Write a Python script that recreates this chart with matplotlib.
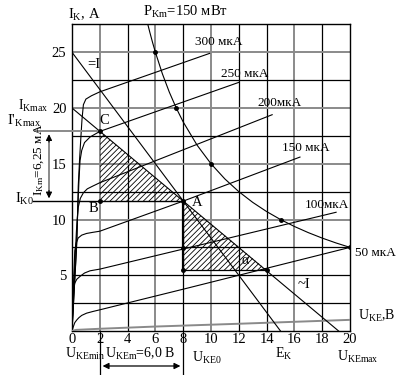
import matplotlib
matplotlib.use("Agg")
import matplotlib.pyplot as plt
from matplotlib.patches import Polygon
import numpy as np

plt.rcParams['font.family'] = ['Liberation Serif', 'DejaVu Serif']
plt.rcParams['mathtext.fontset'] = 'custom'
plt.rcParams['mathtext.rm'] = 'Liberation Serif'
plt.rcParams['mathtext.it'] = 'Liberation Serif'
plt.rcParams['hatch.linewidth'] = 0.6

# ---------------- data ----------------
x_ticks = [0, 2, 4, 6, 8, 10, 12, 14, 16, 18, 20]
y_ticks = [5, 10, 15, 20, 25]

# output characteristics, U_KE (V) and I_K (mA), per base current
curve_labels = ["300 мкА", "250 мкА", "200мкА", "150 мкА", "100мкА", "50 мкА"]
u_300 = [0, 0.35, 0.45, 0.55, 0.65, 0.72, 0.82, 1.0, 1.4, 2.0, 9.9]
i_300 = [0, 8.0, 13.0, 15.5, 17.6, 19.0, 20.3, 20.8, 21.1, 21.45, 24.9]
u_250 = [0, 0.3, 0.42, 0.5, 0.58, 0.7, 0.9, 1.3, 2.0, 12.0]
i_250 = [0, 7.0, 11.0, 13.5, 15.3, 16.2, 16.9, 17.4, 17.9, 22.3]
u_200 = [0, 0.2, 0.32, 0.4, 0.45, 0.6, 0.82, 1.1, 1.5, 2.0, 14.4]
i_200 = [0, 6.0, 9.0, 10.4, 11.1, 11.9, 12.4, 12.75, 13.0, 13.3, 19.4]
u_150 = [0, 0.1, 0.2, 0.3, 0.45, 0.7, 1.05, 1.5, 2.0, 8.0, 16.4]
i_150 = [0, 4.0, 7.2, 7.9, 8.35, 8.6, 8.75, 8.85, 8.95, 11.65, 15.6]
u_100 = [0, 0.05, 0.1, 0.2, 0.35, 0.58, 0.9, 1.3, 2.0, 8.0, 19.0]
i_100 = [0, 2.0, 3.7, 4.3, 4.65, 4.9, 5.2, 5.4, 5.55, 7.35, 10.65]
u_50 = [0, 0.1, 0.2, 0.35, 0.5, 0.7, 1.05, 1.5, 2.0, 8.0, 20.0]
i_50 = [0, 0.4, 0.75, 1.0, 1.2, 1.4, 1.6, 1.75, 1.9, 3.75, 7.5]
u_0 = [0, 0.3, 2.0, 6.0, 12.0, 20.0]
i_0 = [0, 0.1, 0.2, 0.4, 0.65, 1.0]

# max power hyperbola P = 150 mW
p_km = 150.0
u_hyp = [5.45, 5.6, 5.8, 6.0, 6.5, 7.0, 7.5, 8.0, 9.0, 10.0, 11.0, 12.0, 13.0,
         14.0, 15.0, 16.0, 17.0, 18.0, 19.0, 20.0]
hyp_dots_u = [6.0, 7.5, 10.0, 15.0, 20.0]

# operating points
u_c, i_c = 2.0, 17.9      # C
u_a, i_a = 8.0, 11.65     # A
u_d, i_d = 14.0, 5.45     # lower end of swing
e_k = 15.0                # E_K
i_dc0 = 25.0              # DC load line at U=0
i_ac0 = 20.0              # AC load line at U=0
u_ac0 = 19.18             # AC load line at I=0

# ---------------- figure ----------------
W, H = 401, 375
fig = plt.figure(figsize=(W / 100, H / 100), dpi=100)
ax = fig.add_axes([72 / W, 44 / H, 278 / W, (331 - 24.4) / H])
ax.set_xlim(0, 20)
ax.set_ylim(0, 27.5)

def px(xp, yp):
    return (xp - 72) / 13.9, (331 - yp) / 11.15

grey = '#8a8a8a'
# grid
vcol = {2: grey, 4: 'k', 6: grey, 8: 'k', 10: grey, 12: 'k', 14: 'k', 16: grey, 18: 'k'}
for xv, c in vcol.items():
    ax.axvline(xv, color=c, lw=1.4 if c == grey else 0.9, zorder=1)
hcol = {2.5: 'k', 5: 'k', 7.5: 'k', 10: grey, 12.5: 'k', 15: grey, 17.5: 'k',
        20: grey, 22.5: 'k', 25: grey}
for yv, c in hcol.items():
    ax.axhline(yv, color=c, lw=1.4 if c == grey else 0.9, zorder=1)
for s in ax.spines.values():
    s.set_linewidth(1.0)

ax.set_xticks(x_ticks)
ax.set_yticks(y_ticks)
ax.tick_params(length=0, labelsize=10.5, pad=4)
ax.tick_params(axis='x', pad=1.5)

# characteristics
for u, i in [(u_300, i_300), (u_250, i_250), (u_200, i_200), (u_150, i_150),
             (u_100, i_100), (u_50, i_50)]:
    ax.plot(u, i, color='k', lw=0.8, zorder=3)
ax.plot(u_0, i_0, color=grey, lw=1.4, zorder=3)

# hyperbola
uh = np.array(u_hyp)
ax.plot(uh, p_km / uh, color='k', lw=0.8, zorder=3)
hd = np.array(hyp_dots_u)
ax.plot(hd, p_km / hd, 'o', color='k', ms=2.5, zorder=5)

# load lines
ax.plot([0, e_k], [i_dc0, 0], color='k', lw=0.8, zorder=3)
ax.plot([0, u_ac0], [i_ac0, 0], color='k', lw=0.8, zorder=3)

# hatched triangles
t1 = Polygon([(u_c, i_c), (u_c, i_a), (u_a, i_a)], closed=True, fill=False,
             hatch='//////', edgecolor='k', lw=0, zorder=2)
t2 = Polygon([(u_a, i_a), (u_a, i_d), (u_d, i_d)], closed=True, fill=False,
             hatch='//////', edgecolor='k', lw=0, zorder=2)
ax.add_patch(t1)
ax.add_patch(t2)
ax.plot([u_a, u_a], [i_a, i_d], color='k', lw=1.6, zorder=4)
ax.plot([u_a, u_d], [i_d, i_d], color='k', lw=0.9, zorder=4)

# I_K0 and I'_Kmax lines
x0, _ = px(33, 0)
ax.plot([x0, u_a], [i_a, i_a], color='k', lw=1.0, clip_on=False, zorder=4)
x1, _ = px(35, 0)
ax.plot([x1, u_c], [i_c, i_c], color=grey, lw=1.4, clip_on=False, zorder=4)

# points
ax.plot([u_c, u_a, u_a, u_d, u_c, u_a], [i_c, i_a, i_d, i_d, i_a, 7.4], 'o',
        color='k', ms=2.5, zorder=6)

# I_Km arrow
xa, _ = px(49, 0)
ax.plot([xa, xa], [i_a + 0.5, i_c - 0.5], color=grey, lw=1.4, clip_on=False)
ax.annotate('', xy=(xa, i_c), xytext=(xa, i_c - 1.2),
            arrowprops=dict(arrowstyle='-|>', color='k', lw=0.8, mutation_scale=9),
            annotation_clip=False)
ax.annotate('', xy=(xa, i_a), xytext=(xa, i_a + 1.2),
            arrowprops=dict(arrowstyle='-|>', color='k', lw=0.8, mutation_scale=9),
            annotation_clip=False)

# U_KEm arrow and extension lines
_, yb = px(0, 375)
_, yarr = px(0, 366)
for xv in [u_c, u_a]:
    ax.plot([xv, xv], [0, yb], color='k', lw=0.9, clip_on=False)
ax.annotate('', xy=(u_c, yarr), xytext=(u_a, yarr),
            arrowprops=dict(arrowstyle='<|-|>', color='k', lw=0.9, mutation_scale=9),
            annotation_clip=False)

# texts
fs = 9.5
def ftxt(xp, yp, s, ha='left', va='center', size=fs, **kw):
    fig.text(xp / W, 1 - yp / H, s, ha=ha, va=va, fontsize=size, **kw)

ftxt(68, 15, r'I$_{\mathrm{K}}$, A', size=10.5)
ftxt(143, 12, r'P$_{\mathrm{Km}}$=150 мВт', size=10.5)
ftxt(48, 106, r'I$_{\mathrm{Kmax}}$', size=10, ha='right')
ftxt(7, 121, r"I'$_{\mathrm{Kmax}}$", size=10.5)
ftxt(15, 199, r'I$_{\mathrm{K0}}$', size=10.5)
ftxt(39, 160, r'I$_{\mathrm{Km}}$=6,25 мА', size=9.5, rotation=90, ha='center')

# curve labels
lab_pos = [(219, 42), (245, 74), (280, 103), (306, 148), (327, 205), (375, 253)]
for (xp, yp), s in zip(lab_pos, curve_labels):
    ftxt(xp, yp, s, ha='center')

ftxt(93, 208, 'B', ha='center', size=10.5)
ftxt(104, 120, 'C', ha='center', size=10.5)
ftxt(197, 203, 'A', ha='center', size=10.5)
ftxt(245, 261, 'α', ha='center', size=10)
ftxt(94, 64, '=I', ha='center', size=10.5)
ftxt(304, 285, '~I', ha='center', size=10.5)

ftxt(65, 354, r'U$_{\mathrm{KEmin}}$', size=10)
ftxt(105, 354, r'U$_{\mathrm{KEm}}$=6,0 B', size=10)
ftxt(192, 358, r'U$_{\mathrm{KE0}}$', size=10)
ftxt(275, 354, r'E$_{\mathrm{K}}$', size=10)
ftxt(337, 357, r'U$_{\mathrm{KEmax}}$', size=10)
ftxt(358, 316, r'U$_{\mathrm{KE}}$,B', size=10)

fig.savefig('out.png', dpi=100)
